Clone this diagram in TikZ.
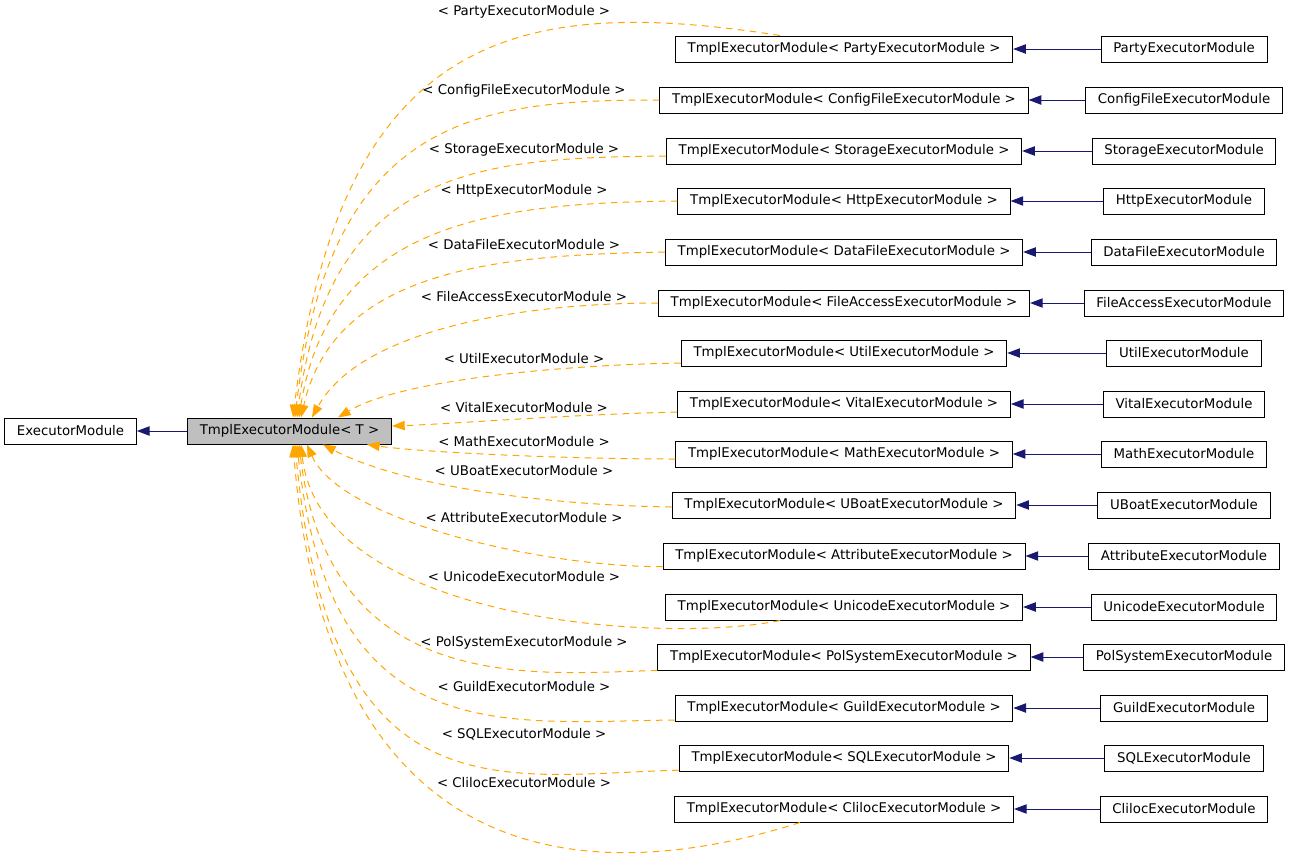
\documentclass[tikz,border=0pt]{standalone}
\usepackage{fontspec}
\setmainfont{DejaVu Sans}
\usepackage{tikz}
\usetikzlibrary{arrows.meta}
\definecolor{navyline}{HTML}{191970}
\definecolor{tmplorange}{HTML}{FFA500}
\definecolor{tmplgray}{HTML}{BFBFBF}
\tikzstyle{classbox} = [rectangle, draw=black, line width=0.75pt, minimum height=19.5pt, inner xsep=9.2pt, inner ysep=0pt, text centered]
\tikzstyle{inherit} = [navyline, line width=0.75pt, -{Triangle[length=9.5pt, width=7pt]}]
\tikzstyle{tmplarrow} = [tmplorange, line width=0.75pt, dash pattern=on 5pt off 4pt, -{Triangle[length=9.5pt, width=7pt]}]
\tikzstyle{tmpllabel} = [inner sep=0pt]

\begin{document}
\begin{tikzpicture}[x=0.75pt, y=-0.75pt]
    \useasboundingbox (0,0) rectangle (1291,853);
    \node (execmod) [classbox] at (70.5,431) {ExecutorModule};
    \node (tmplT) [classbox, fill=tmplgray] at (289.5,431) {TmplExecutorModule< T >};
    \draw [inherit] (tmplT) -- (execmod);

    \node (tparty) [classbox] at (844,49) {TmplExecutorModule< PartyExecutorModule >};
    \node (tconfig) [classbox] at (844,100) {TmplExecutorModule< ConfigFileExecutorModule >};
    \node (tstorage) [classbox] at (844,151) {TmplExecutorModule< StorageExecutorModule >};
    \node (thttp) [classbox] at (844,201) {TmplExecutorModule< HttpExecutorModule >};
    \node (tdata) [classbox] at (844,252) {TmplExecutorModule< DataFileExecutorModule >};
    \node (tfile) [classbox] at (844,303) {TmplExecutorModule< FileAccessExecutorModule >};
    \node (tutil) [classbox] at (844,353) {TmplExecutorModule< UtilExecutorModule >};
    \node (tvital) [classbox] at (844,404) {TmplExecutorModule< VitalExecutorModule >};
    \node (tmath) [classbox] at (844,454) {TmplExecutorModule< MathExecutorModule >};
    \node (tuboat) [classbox] at (844,505) {TmplExecutorModule< UBoatExecutorModule >};
    \node (tattr) [classbox] at (844,556) {TmplExecutorModule< AttributeExecutorModule >};
    \node (tunicode) [classbox] at (844,607) {TmplExecutorModule< UnicodeExecutorModule >};
    \node (tpolsys) [classbox] at (844,657) {TmplExecutorModule< PolSystemExecutorModule >};
    \node (tguild) [classbox] at (844,708) {TmplExecutorModule< GuildExecutorModule >};
    \node (tsql) [classbox] at (844,758) {TmplExecutorModule< SQLExecutorModule >};
    \node (tcliloc) [classbox] at (844,809) {TmplExecutorModule< ClilocExecutorModule >};

    \node (party) [classbox] at (1184,49) {PartyExecutorModule};
    \node (config) [classbox] at (1184,100) {ConfigFileExecutorModule};
    \node (storage) [classbox] at (1184,151) {StorageExecutorModule};
    \node (http) [classbox] at (1184,201) {HttpExecutorModule};
    \node (data) [classbox] at (1184,252) {DataFileExecutorModule};
    \node (file) [classbox] at (1184,303) {FileAccessExecutorModule};
    \node (util) [classbox] at (1184,353) {UtilExecutorModule};
    \node (vital) [classbox] at (1184,404) {VitalExecutorModule};
    \node (math) [classbox] at (1184,454) {MathExecutorModule};
    \node (uboat) [classbox] at (1184,505) {UBoatExecutorModule};
    \node (attr) [classbox] at (1184,556) {AttributeExecutorModule};
    \node (unicode) [classbox] at (1184,607) {UnicodeExecutorModule};
    \node (polsys) [classbox] at (1184,657) {PolSystemExecutorModule};
    \node (guild) [classbox] at (1184,708) {GuildExecutorModule};
    \node (sql) [classbox] at (1184,758) {SQLExecutorModule};
    \node (cliloc) [classbox] at (1184,809) {ClilocExecutorModule};

    \draw [inherit] (party) -- (tparty);
    \draw [inherit] (config) -- (tconfig);
    \draw [inherit] (storage) -- (tstorage);
    \draw [inherit] (http) -- (thttp);
    \draw [inherit] (data) -- (tdata);
    \draw [inherit] (file) -- (tfile);
    \draw [inherit] (util) -- (tutil);
    \draw [inherit] (vital) -- (tvital);
    \draw [inherit] (math) -- (tmath);
    \draw [inherit] (uboat) -- (tuboat);
    \draw [inherit] (attr) -- (tattr);
    \draw [inherit] (unicode) -- (tunicode);
    \draw [inherit] (polsys) -- (tpolsys);
    \draw [inherit] (guild) -- (tguild);
    \draw [inherit] (sql) -- (tsql);
    \draw [inherit] (cliloc) -- (tcliloc);

    \draw [tmplarrow] ([xshift=-48pt]tparty.north) .. controls (520,-5) and (340,30) .. ([xshift=79.5pt]tmplT.north west);
    \draw [tmplarrow] (tconfig.west) .. controls (480,100) and (330,115) .. ([xshift=81pt]tmplT.north west);
    \draw [tmplarrow] ([yshift=-3.75pt]tstorage.west) .. controls (485,158) and (330,165) .. ([xshift=82.5pt]tmplT.north west);
    \draw [tmplarrow] (thttp.west) .. controls (500,203) and (330,220) .. ([xshift=84pt]tmplT.north west);
    \draw [tmplarrow] (tdata.west) .. controls (500,255) and (335,268) .. ([xshift=85.5pt]tmplT.north west);
    \draw [tmplarrow] (tfile.west) .. controls (520,303) and (360,330) .. ([xshift=93.75pt]tmplT.north west);
    \draw [tmplarrow] ([yshift=-7.5pt]tutil.west) .. controls (560,365) and (400,380) .. ([xshift=113.25pt]tmplT.north west);
    \draw [tmplarrow] ([yshift=-6pt]tvital.west) .. controls (560,415) and (450,424) .. ([yshift=3.75pt]tmplT.east);
    \draw [tmplarrow] ([yshift=-3.75pt]tmath.west) .. controls (560,459) and (420,452) .. ([xshift=135pt]tmplT.south west);
    \draw [tmplarrow] ([yshift=-1.5pt]tuboat.west) .. controls (540,505) and (400,485) .. ([xshift=102pt]tmplT.south west);
    \draw [tmplarrow] ([yshift=-8pt]tattr.west) .. controls (540,567) and (340,520) .. ([xshift=90pt]tmplT.south west);
    \draw [tmplarrow] ([xshift=-48pt]tunicode.south) .. controls (660,645) and (320,620) .. ([xshift=85.5pt]tmplT.south west);
    \draw [tmplarrow] (tpolsys.south west) .. controls (540,673) and (330,700) .. ([xshift=84pt]tmplT.south west);
    \draw [tmplarrow] ([yshift=-9pt]tguild.west) .. controls (500,722) and (330,750) .. ([xshift=82.5pt]tmplT.south west);
    \draw [tmplarrow] ([yshift=1pt]tsql.south west) .. controls (500,775) and (330,820) .. ([xshift=81pt]tmplT.south west);
    \draw [tmplarrow] ([xshift=-33pt]tcliloc.south) .. controls (620,880) and (330,900) .. ([xshift=79.5pt]tmplT.south west);

    \node (lparty) [tmpllabel] at (524,12) {< PartyExecutorModule >};
    \node (lconfig) [tmpllabel] at (524,91) {< ConfigFileExecutorModule >};
    \node (lstorage) [tmpllabel] at (524,150) {< StorageExecutorModule >};
    \node (lhttp) [tmpllabel] at (524,191) {< HttpExecutorModule >};
    \node (ldata) [tmpllabel] at (524,245) {< DataFileExecutorModule >};
    \node (lfile) [tmpllabel] at (524,297) {< FileAccessExecutorModule >};
    \node (lutil) [tmpllabel] at (524,359) {< UtilExecutorModule >};
    \node (lvital) [tmpllabel] at (524,408) {< VitalExecutorModule >};
    \node (lmath) [tmpllabel] at (524,442) {< MathExecutorModule >};
    \node (luboat) [tmpllabel] at (524,471) {< UBoatExecutorModule >};
    \node (lattr) [tmpllabel] at (524,518) {< AttributeExecutorModule >};
    \node (lunicode) [tmpllabel] at (524,577) {< UnicodeExecutorModule >};
    \node (lpolsys) [tmpllabel] at (524,643) {< PolSystemExecutorModule >};
    \node (lguild) [tmpllabel] at (524,687) {< GuildExecutorModule >};
    \node (lsql) [tmpllabel] at (524,734) {< SQLExecutorModule >};
    \node (lcliloc) [tmpllabel] at (524,783) {< ClilocExecutorModule >};
\end{tikzpicture}
\end{document}
